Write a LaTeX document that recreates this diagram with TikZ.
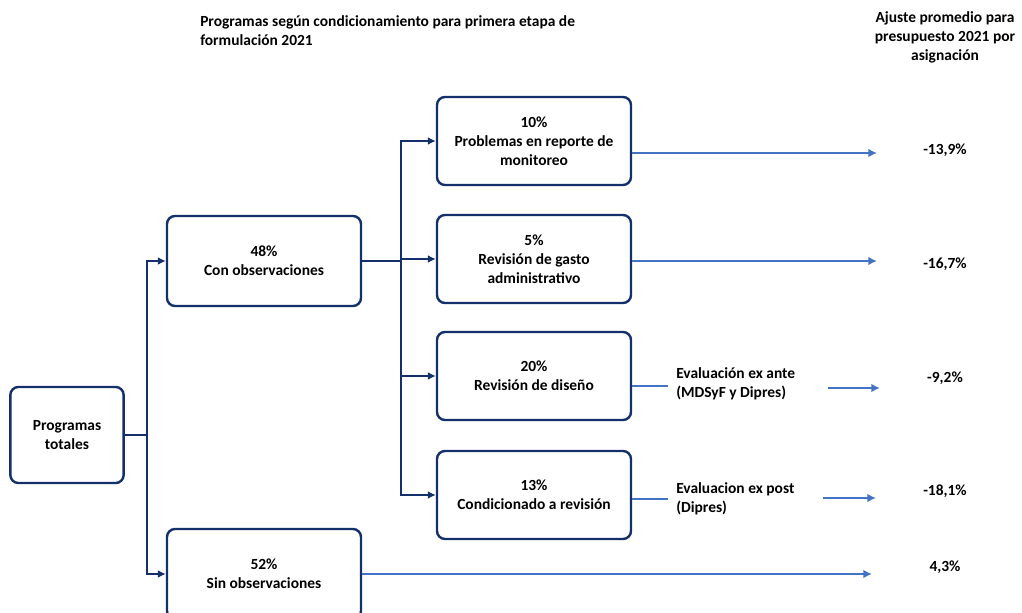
\documentclass[tikz,border=0pt]{standalone}
\usepackage{fontspec}
\setmainfont{Carlito}
\usepackage{tikz}
\usetikzlibrary{shapes, arrows.meta, positioning}
\definecolor{NavyBox}{HTML}{13306B}
\definecolor{ArrowBlue}{HTML}{4472C4}

\begin{document}
\begin{tikzpicture}[x=0.75pt, y=-0.75pt,
    font=\fontsize{11.6}{14.25}\selectfont\bfseries,
    box/.style={draw=NavyBox, line width=1.8pt, rounded corners=6pt, align=center, inner sep=2pt},
    widebox/.style={box, minimum width=145.5pt, minimum height=67.5pt},
    rightbox/.style={box, minimum width=145.5pt, minimum height=66pt},
    darkline/.style={draw=NavyBox, line width=1.5pt, -{Latex[length=6pt,width=6pt]}},
    bluearrow/.style={draw=ArrowBlue, line width=1.3pt, -{Latex[length=6.5pt,width=6.5pt]}},
    blueline/.style={draw=ArrowBlue, line width=0.8pt},
    txt/.style={inner sep=0pt}]
        \useasboundingbox (0,0) rectangle (1022,613);
        % titles
        \node[txt, anchor=west, align=left] (ttlleft) at (200,30.5) {Programas según condicionamiento para primera etapa de\\formulación 2021};
        \node[txt, align=center] (ttlright) at (945,37) {Ajuste promedio para\\presupuesto 2021 por\\asignación};
        % boxes
        \node[box, minimum width=85pt, minimum height=72pt] (total) at (67,435) {Programas\\totales};
        \node[widebox] (conobs) at (264,261) {48\%\\Con observaciones};
        \node[widebox] (sinobs) at (264,574) {52\%\\Sin observaciones};
        \node[rightbox] (monit) at (534,141) {10\%\\Problemas en reporte de\\monitoreo};
        \node[rightbox] (gasto) at (534,259) {5\%\\Revisión de gasto\\administrativo};
        \node[rightbox] (diseno) at (534,376) {20\%\\Revisión de diseño};
        \node[rightbox] (condic) at (534,495) {13\%\\Condicionado a revisión};
        % evaluations
        \node[txt, anchor=west, align=left] (exante) at (676,384) {Evaluación ex ante\\(MDSyF y Dipres)};
        \node[txt, anchor=west, align=left] (expost) at (676,498.5) {Evaluacion ex post\\(Dipres)};
        % adjustments
        \node[txt] (v1) at (945,150) {-13,9\%};
        \node[txt] (v2) at (945,264) {-16,7\%};
        \node[txt] (v3) at (945,378) {-9,2\%};
        \node[txt] (v4) at (945,491) {-18,1\%};
        \node[txt] (v5) at (945,567) {4,3\%};
        % tree connectors
        \draw[darkline] (total.east) -- ++(22,0) |- (conobs.west);
        \draw[darkline] (total.east) -- ++(22,0) |- (sinobs.west);
        \foreach \b in {monit, gasto, diseno, condic}
            \draw[darkline] (conobs.east) -- ++(39,0) |- (\b.west);
        % blue arrows
        \coordinate (end1) at (877,153);
        \coordinate (end2) at (877,261);
        \coordinate (tick3) at (668,386);
        \coordinate (beg3) at (828,388);
        \coordinate (end3) at (880,388);
        \coordinate (tick4) at (668,499);
        \coordinate (beg4) at (823,498);
        \coordinate (end4) at (876,498);
        \coordinate (end5) at (872,574);
        \draw[bluearrow] (monit.east |- end1) -- (end1);
        \draw[bluearrow] (gasto.east |- end2) -- (end2);
        \draw[blueline] (diseno.east |- tick3) -- (tick3);
        \draw[bluearrow] (beg3) -- (end3);
        \draw[blueline] (condic.east |- tick4) -- (tick4);
        \draw[bluearrow] (beg4) -- (end4);
        \draw[bluearrow] (sinobs.east |- end5) -- (end5);
\end{tikzpicture}
\end{document}
